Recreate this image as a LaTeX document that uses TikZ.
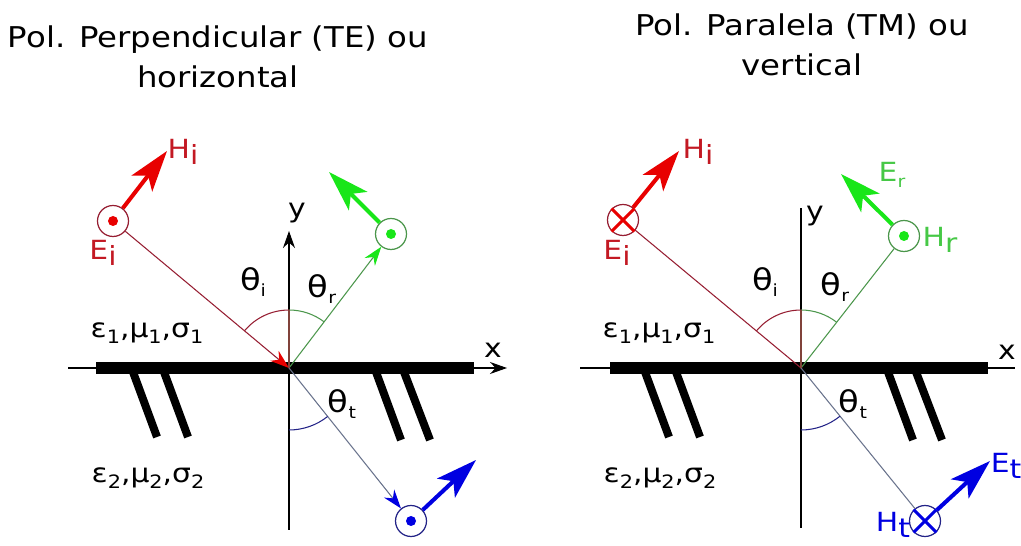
\documentclass[tikz,border=0pt]{standalone}
\usepackage{fontspec}
\setmainfont{DejaVu Sans}[FakeStretch=1.13]
\usetikzlibrary{arrows.meta,angles}
\definecolor{incred}{RGB}{232,0,0}
\definecolor{incdark}{RGB}{150,30,50}
\definecolor{inclabel}{RGB}{195,25,35}
\definecolor{refgreen}{RGB}{25,230,25}
\definecolor{refdark}{RGB}{75,150,75}
\definecolor{reflabel}{RGB}{70,200,70}
\definecolor{trblue}{RGB}{0,0,225}
\definecolor{trdark}{RGB}{105,115,140}
\definecolor{trarc}{RGB}{35,35,135}
\newcommand\lsub[1]{\raisebox{-0.25em}{#1}}
\newcommand\msub[1]{\raisebox{-0.22em}{\fontsize{10.5}{10.5}\selectfont #1}}
\newcommand\tsub[1]{\raisebox{-0.2em}{\fontsize{9.5}{9.5}\selectfont #1}}
\tikzset{
  field/.style={circle,draw,line width=0.7pt,minimum size=0.62cm,inner sep=0pt},
  vec/.style={line width=2.3pt,-{Stealth[length=0.82cm,width=0.52cm,inset=0.2cm]}},
  ray/.style={line width=0.6pt},
  tip/.style={-{Stealth[length=0.38cm,width=0.26cm,color=#1]}},
  axis/.style={line width=0.6pt},
  axtip/.style={-{Stealth[length=0.34cm,width=0.24cm]}},
  wall/.style={line width=0.24cm},
  hatch/.style={line width=0.16cm},
  lbl/.style={font=\fontsize{15}{17}\selectfont,inner sep=1pt},
  thl/.style={font=\fontsize{17}{19}\selectfont,inner sep=1pt},
  ttl/.style={font=\fontsize{16.3}{22.5}\selectfont,align=center},
  ang/.style={draw,line width=0.6pt,angle radius=1.16cm}
}
\begin{document}
\begin{tikzpicture}[x=0.02cm,y=-0.02cm]
\useasboundingbox (0,0) rectangle (1021,546);
\node[ttl] (title1) at (218,57) {Pol. Perpendicular (TE) ou\\horizontal};
\node[ttl] (title2) at (802,45) {Pol. Paralela (TM) ou\\vertical};
% left: TE
\coordinate (O1) at (289,368);
\coordinate (Y1top) at (289,231);
\coordinate (Y1bot) at (289,530);
\coordinate (X1l) at (68,368);
\coordinate (X1r) at (507,368);
\draw[axis,axtip] (Y1bot) -- (Y1top);
\draw[axis,axtip] (X1l) -- (X1r);
\draw[wall] (96,368) -- (474,368);
\draw[hatch] (133,372) -- (157,437) (164,372) -- (188,437);
\draw[hatch] (376,372) -- (401,440) (404,372) -- (430,440);
\node[field,draw=incdark] (Ei1) at (113,221) {};
\fill[incred] (Ei1) circle (0.1cm);
\coordinate (Hi1tip) at (167,151);
\draw[vec,incred] (Ei1) -- (Hi1tip);
\draw[ray,incdark,tip=incred] (Ei1) -- (O1);
\node[field,draw=refdark] (Er1) at (391,234) {};
\fill[refgreen] (Er1) circle (0.1cm);
\coordinate (Er1tip) at (329,172);
\draw[vec,refgreen] (Er1) -- (Er1tip);
\draw[ray,refdark,tip=refgreen] (O1) -- (Er1);
\node[field,draw=trarc] (Et1) at (411,521) {};
\fill[trblue] (Et1) circle (0.1cm);
\coordinate (Ht1tip) at (476,460);
\draw[vec,trblue] (Et1) -- (Ht1tip);
\draw[ray,trdark,tip=trblue] (O1) -- (Et1);
\pic[ang,draw=incdark] {angle=Y1top--O1--Ei1};
\pic[ang,draw=refdark] {angle=Er1--O1--Y1top};
\pic[ang,draw=trarc,angle radius=1.24cm] {angle=Y1bot--O1--Et1};
\draw[line width=0.9pt,incdark!70!refdark] (O1) -- (289,310);
\node[lbl,inclabel] (Hi1) at (183,152) {H\lsub{i}};
\node[lbl,inclabel] (Ei1l) at (103,253) {E\lsub{i}};
\node[thl] (thi1) at (253,282) {θ\tsub{i}};
\node[thl] (thr1) at (322,289) {θ\tsub{r}};
\node[thl] (tht1) at (342,404) {θ\tsub{t}};
\node[lbl] (y1) at (297,213) {y};
\node[lbl] (x1) at (493,350) {x};
\node[lbl] (med11) at (147,333) {ε\msub{1},μ\msub{1},σ\msub{1}};
\node[lbl] (med21) at (148,478) {ε\msub{2},μ\msub{2},σ\msub{2}};
% right: TM
\coordinate (O2) at (801,368);
\coordinate (Y2top) at (801,208);
\coordinate (Y2bot) at (801,528);
\coordinate (X2l) at (580,368);
\coordinate (X2r) at (1015,368);
\draw[axis] (Y2bot) -- (Y2top);
\draw[axis] (X2l) -- (X2r);
\draw[wall] (610,368) -- (988,368);
\draw[hatch] (645,372) -- (669,437) (676,372) -- (700,437);
\draw[hatch] (888,372) -- (913,440) (916,372) -- (942,440);
\node[field,draw=incdark] (Ei2) at (623,220) {};
\draw[line width=1.8pt,incred] (Ei2.45) -- (Ei2.225) (Ei2.135) -- (Ei2.315);
\coordinate (Hi2tip) at (679,151);
\draw[vec,incred] (Ei2) -- (Hi2tip);
\draw[ray,incdark] (Ei2) -- (O2);
\node[field,draw=refdark] (Hr2) at (904,236) {};
\fill[refgreen] (Hr2) circle (0.1cm);
\coordinate (Er2tip) at (841,174);
\draw[vec,refgreen] (Hr2) -- (Er2tip);
\draw[ray,refdark] (O2) -- (Hr2);
\node[field,draw=trarc] (Ht2) at (925,521) {};
\draw[line width=1.8pt,trblue] (Ht2.45) -- (Ht2.225) (Ht2.135) -- (Ht2.315);
\coordinate (Et2tip) at (990,461);
\draw[vec,trblue] (Ht2) -- (Et2tip);
\draw[ray,trdark] (O2) -- (Ht2);
\pic[ang,draw=incdark] {angle=Y2top--O2--Ei2};
\pic[ang,draw=refdark] {angle=Hr2--O2--Y2top};
\pic[ang,draw=trarc,angle radius=1.24cm] {angle=Y2bot--O2--Ht2};
\draw[line width=0.9pt,incdark!70!refdark] (O2) -- (801,310);
\node[lbl,inclabel] (Hi2) at (698,152) {H\lsub{i}};
\node[lbl,inclabel] (Ei2l) at (617,253) {E\lsub{i}};
\node[lbl,reflabel] (Er2l) at (892,175) {E\tsub{r}};
\node[lbl,reflabel] (Hr2l) at (940,240) {H\lsub{r}};
\node[lbl,trblue] (Ht2l) at (893,525) {H\lsub{t}};
\node[lbl,trblue] (Et2l) at (1006,466) {E\lsub{t}};
\node[thl] (thi2) at (765,282) {θ\tsub{i}};
\node[thl] (thr2) at (835,287) {θ\tsub{r}};
\node[thl] (tht2) at (853,404) {θ\tsub{t}};
\node[lbl] (y2) at (815,216) {y};
\node[lbl] (x2) at (1007,352) {x};
\node[lbl] (med12) at (659,333) {ε\msub{1},μ\msub{1},σ\msub{1}};
\node[lbl] (med22) at (660,478) {ε\msub{2},μ\msub{2},σ\msub{2}};
\end{tikzpicture}
\end{document}
